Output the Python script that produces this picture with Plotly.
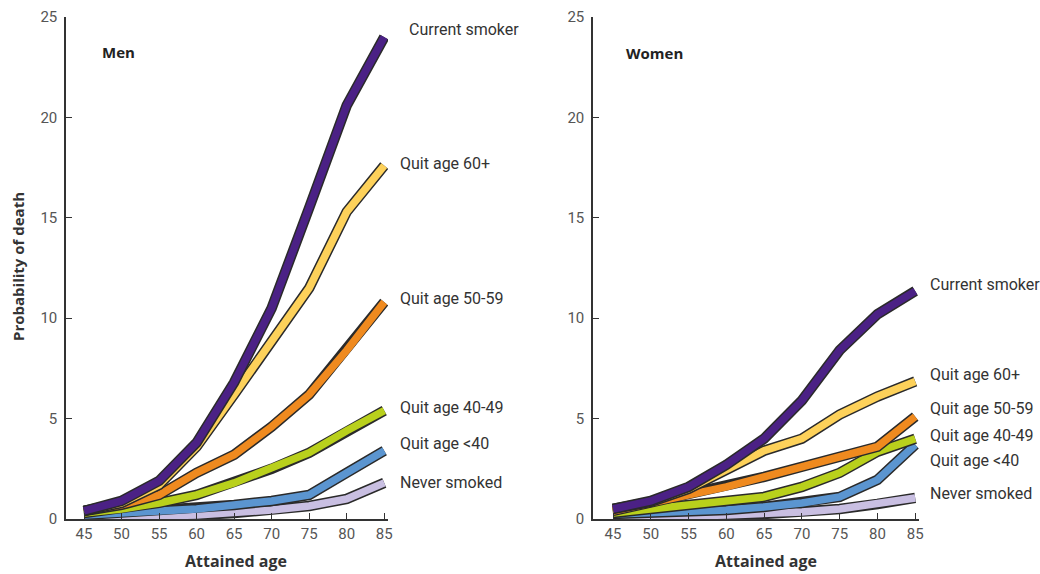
import plotly.graph_objects as go

ages = [45, 50, 55, 60, 65, 70, 75, 80, 85]
series_names = ["Never smoked", "Quit age <40", "Quit age 40-49", "Quit age 50-59", "Quit age 60+", "Current smoker"]
colors = ["#c9bfe2", "#5b95d0", "#b9d01c", "#ef8a1f", "#fdd15a", "#4b2185"]

men_never = [0.1, 0.1, 0.15, 0.2, 0.3, 0.45, 0.65, 1.0, 1.8]
men_lt40 = [0.2, 0.3, 0.4, 0.5, 0.7, 0.9, 1.2, 2.3, 3.4]
men_40_49 = [0.3, 0.5, 0.8, 1.2, 1.8, 2.5, 3.3, 4.4, 5.4]
men_50_59 = [0.4, 0.7, 1.2, 2.3, 3.2, 4.6, 6.2, 8.4, 10.8]
men_60p = [0.4, 0.8, 1.7, 3.6, 6.2, 8.8, 11.5, 15.3, 17.6]
men_current = [0.4, 0.9, 1.9, 3.8, 6.8, 10.5, 15.5, 20.6, 24.0]

women_never = [0.1, 0.1, 0.15, 0.2, 0.25, 0.35, 0.5, 0.75, 1.05]
women_lt40 = [0.25, 0.3, 0.35, 0.45, 0.6, 0.8, 1.1, 1.95, 3.7]
women_40_49 = [0.3, 0.5, 0.7, 0.85, 1.1, 1.6, 2.3, 3.35, 4.0]
women_50_59 = [0.4, 0.8, 1.2, 1.6, 2.1, 2.6, 3.1, 3.6, 5.1]
women_60p = [0.5, 0.85, 1.5, 2.5, 3.4, 4.0, 5.2, 6.1, 6.85]
women_current = [0.5, 0.9, 1.6, 2.7, 4.0, 5.9, 8.4, 10.2, 11.35]

men = [men_never, men_lt40, men_40_49, men_50_59, men_60p, men_current]
women = [women_never, women_lt40, women_40_49, women_50_59, women_60p, women_current]

# label y positions (data units) for line labels
men_label_y = [1.8, 3.75, 5.55, 11.0, 17.7, 24.4]
women_label_y = [1.25, 2.9, 4.15, 5.5, 7.2, 11.7]

x_ticks = [45, 50, 55, 60, 65, 70, 75, 80, 85]
y_ticks = [0, 5, 10, 15, 20, 25]

W, H = 1040, 574


def px(X):
    return X / W


def py(Y):
    return (H - Y) / H


fig = go.Figure()

for data, xa, ya in [(men, "x", "y"), (women, "x2", "y2")]:
    for vals, col in zip(data, colors):
        fig.add_trace(go.Scatter(x=ages, y=vals, xaxis=xa, yaxis=ya, mode="lines",
                                 line=dict(color="#2a2a2a", width=10.5), hoverinfo="skip", showlegend=False))
        fig.add_trace(go.Scatter(x=ages, y=vals, xaxis=xa, yaxis=ya, mode="lines",
                                 line=dict(color=col, width=7.5), hoverinfo="skip", showlegend=False))

tick_font = dict(family="Liberation Sans Narrow, Roboto, sans-serif", size=15, color="#555555")
label_font = dict(family="Liberation Sans Narrow, Roboto, sans-serif", size=16, color="#333333")
title_font = dict(family="Open Sans, sans-serif", size=16, color="#333")


def xaxis(domain, rng, anchor):
    return dict(domain=domain, range=rng, tickvals=x_ticks, ticks="inside", ticklen=6, anchor=anchor,
                tickwidth=1.3, tickcolor="#333", showline=True, linecolor="#333", linewidth=1.5,
                showgrid=False, zeroline=False, tickfont=tick_font, fixedrange=True, automargin=False)


def yaxis(domain, anchor):
    return dict(domain=domain, range=[0, 25], tickvals=y_ticks, ticks="inside", ticklen=6, automargin=False,
                tickwidth=1.3, tickcolor="#333", showline=True, linecolor="#333", linewidth=1.5,
                showgrid=False, zeroline=False, tickfont=tick_font, anchor=anchor, fixedrange=True,
                ticklabelstandoff=4)


ydom = [py(519), py(17)]
xd1 = [px(66), px(388)]
xd2 = [px(593), px(919)]

fig.update_layout(width=W, height=H, margin=dict(l=0, r=0, t=0, b=0, autoexpand=False),
                  plot_bgcolor="white", paper_bgcolor="white",
                  xaxis=xaxis(xd1, [42.6, 85.5], "y"), yaxis=yaxis(ydom, "x"),
                  xaxis2=xaxis(xd2, [42.35, 85.5], "y2"), yaxis2=yaxis(ydom, "x2"))

ann = []
for names_y, xpix, ya in [(men_label_y, 398, "y"), (women_label_y, 928, "y2")]:
    for name, yv in zip(series_names, names_y):
        xp = xpix + (9 if (name == "Current smoker" and ya == "y") else 0)
        ann.append(dict(x=px(xp), y=yv, xref="paper", yref=ya, text=name, showarrow=False, xanchor="left",
                        yanchor="middle", font=label_font))
ann.append(dict(x=px(100), y=py(52), xref="paper", yref="paper", text="<b>Men</b>", showarrow=False,
                xanchor="left", yanchor="middle", font=dict(family="Open Sans, sans-serif", size=15, color="#222")))
ann.append(dict(x=px(624), y=py(53), xref="paper", yref="paper", text="<b>Women</b>", showarrow=False,
                xanchor="left", yanchor="middle", font=dict(family="Open Sans, sans-serif", size=15, color="#222")))
for cx in (236, 766):
    ann.append(dict(x=px(cx), y=py(561), xref="paper", yref="paper", text="<b>Attained age</b>", showarrow=False,
                    xanchor="center", yanchor="middle", font=title_font))
ann.append(dict(x=px(18), y=py(267), xref="paper", yref="paper", text="<b>Probability of death</b>",
                showarrow=False, textangle=-90, xanchor="center", yanchor="middle",
                font=dict(family="Open Sans, sans-serif", size=15, color="#333")))
fig.update_layout(annotations=ann)

# remove the default 8px body margin so the figure fills the window exactly
fig.write_html("out.html", config={"displayModeBar": False},
               post_script="document.body.style.margin='0';document.body.style.overflow='hidden';")
